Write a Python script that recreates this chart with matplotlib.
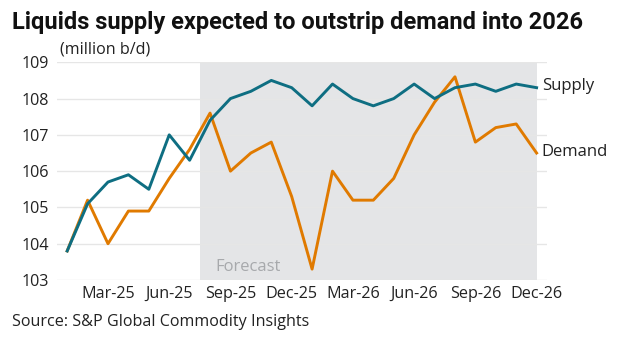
import numpy as np
import matplotlib.pyplot as plt

plt.rcParams['font.family'] = ['Open Sans', 'DejaVu Sans']

# monthly, Jan-25 .. Dec-26
months = ['Jan-25', 'Feb-25', 'Mar-25', 'Apr-25', 'May-25', 'Jun-25',
          'Jul-25', 'Aug-25', 'Sep-25', 'Oct-25', 'Nov-25', 'Dec-25',
          'Jan-26', 'Feb-26', 'Mar-26', 'Apr-26', 'May-26', 'Jun-26',
          'Jul-26', 'Aug-26', 'Sep-26', 'Oct-26', 'Nov-26', 'Dec-26']
supply = [103.8, 105.1, 105.7, 105.9, 105.5, 107.0, 106.3, 107.4, 108.0, 108.2,
          108.5, 108.3, 107.8, 108.4, 108.0, 107.8, 108.0, 108.4, 108.0, 108.3,
          108.4, 108.2, 108.4, 108.3]
demand = [103.8, 105.2, 104.0, 104.9, 104.9, 105.8, 106.6, 107.6, 106.0, 106.5,
          106.8, 105.3, 103.3, 106.0, 105.2, 105.2, 105.8, 107.0, 107.9, 108.6,
          106.8, 107.2, 107.3, 106.5]
tick_labels = ['Mar-25', 'Jun-25', 'Sep-25', 'Dec-25', 'Mar-26', 'Jun-26', 'Sep-26', 'Dec-26']
forecast_start = 'Aug-25'

x = np.arange(len(months))
supply_col = '#0e6e82'
demand_col = '#e07a00'
txt_col = '#222222'

fig = plt.figure(figsize=(6.24, 3.43), dpi=100)
ax = fig.add_axes([0.0913, 0.1837, 0.785, 0.6347])

# forecast shading starts half a month before the first forecast point
fs = months.index(forecast_start) - 0.5
ax.axvspan(fs, x[-1], color='#e4e5e7', lw=0, zorder=0)
ax.text(fs + 0.75, 103.15, 'Forecast', color='#a7a9ac', fontsize=12, va='bottom')

ax.plot(x, demand, color=demand_col, lw=2.1, zorder=3)
ax.plot(x, supply, color=supply_col, lw=2.1, zorder=4)

ax.text(x[-1] + 0.25, supply[-1] + 0.05, 'Supply', fontsize=12, color=txt_col, va='center', clip_on=False)
ax.text(x[-1] + 0.25, demand[-1] + 0.03, 'Demand', fontsize=12, color=txt_col, va='center', clip_on=False)

ax.set_xlim(-0.5, 23.5)
ax.set_ylim(103, 109)
ax.set_yticks(range(103, 110))
ax.set_xticks([months.index(t) for t in tick_labels])
ax.set_xticklabels(tick_labels)
ax.grid(axis='y', color='#e6e6e6', lw=1)
ax.set_axisbelow(True)
for s in ax.spines.values():
    s.set_visible(False)
ax.tick_params(length=0, labelsize=11.6, colors=txt_col, pad=4)
ax.tick_params(axis='y', pad=6)

fig.text(0.019, 0.935, 'Liquids supply expected to outstrip demand into 2026',
         fontsize=17, fontweight='bold', color='#111111', va='center', family=['Roboto', 'DejaVu Sans'])
fig.text(0.096, 0.857, '(million b/d)', fontsize=11.6, color=txt_col, va='center')
fig.text(0.019, 0.062, 'Source: S&P Global Commodity Insights', fontsize=11.6, color=txt_col, va='center')

fig.savefig('out.png', dpi=100)
